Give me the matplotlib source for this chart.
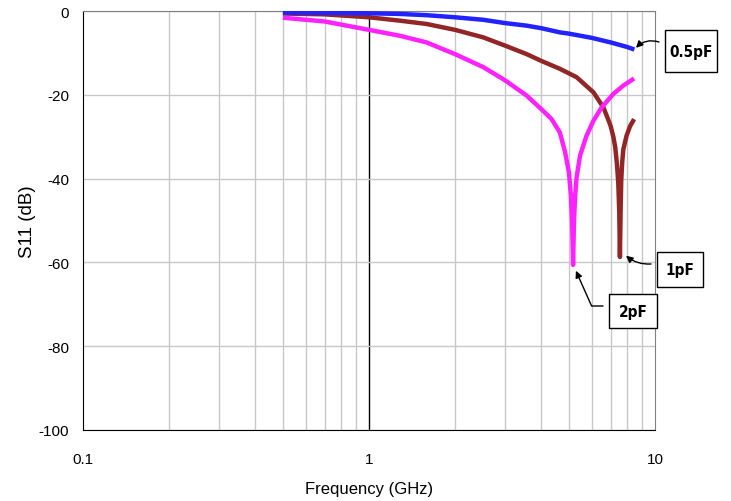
import matplotlib.pyplot as plt
from matplotlib.patches import Rectangle
from matplotlib.ticker import FixedLocator, NullFormatter

# S11 versus frequency for three capacitor values
freq_05 = [0.5, 0.7, 1.0, 1.28, 1.59, 2.0, 2.51, 3.0, 3.56, 4.0, 4.65, 5.0, 6.0, 7.0, 8.0, 8.47]
s11_05 = [-0.4, -0.45, -0.55, -0.7, -1.0, -1.5, -2.1, -2.9, -3.5, -4.1, -5.1, -5.4, -6.4, -7.5,
          -8.6, -9.2]

freq_1 = [0.5, 0.7, 1.0, 1.28, 1.59, 2.0, 2.51, 3.0, 3.56, 4.0, 4.65, 5.32, 6.09, 6.6, 6.87,
          7.0, 7.15, 7.26, 7.36, 7.44, 7.50, 7.54, 7.58, 7.62, 7.68, 7.75, 7.95, 8.18, 8.45]
s11_1 = [-0.6, -0.8, -1.5, -2.3, -3.1, -4.5, -6.3, -8.3, -10.3, -11.9, -13.8, -15.8, -19.4, -23.0,
         -26.0, -27.5, -30.0, -32.5, -36.5, -41.0, -48.0, -58.7, -48.0, -40.5, -36.0, -33.0,
         -29.8, -27.5, -25.8]

freq_2 = [0.5, 0.7, 1.0, 1.28, 1.59, 2.0, 2.51, 3.0, 3.56, 4.0, 4.35, 4.65, 4.85, 5.0, 5.08,
          5.13, 5.17, 5.21, 5.26, 5.32, 5.47, 5.76, 6.09, 6.51, 7.15, 7.75, 8.45]
s11_2 = [-1.6, -2.5, -4.5, -5.9, -7.5, -10.3, -13.4, -16.6, -20.2, -23.4, -25.8, -29.0, -33.7,
         -38.5, -44.0, -50.0, -60.6, -50.0, -44.0, -39.7, -34.5, -29.8, -26.2, -23.0, -19.8,
         -17.8, -16.1]

x_ticks = [0.1, 1, 10]
x_tick_labels = ['0.1', '1', '10']
y_ticks = [-100, -80, -60, -40, -20, 0]

plt.rcParams['font.family'] = ['Liberation Sans', 'DejaVu Sans']
plt.rcParams['axes.unicode_minus'] = False

W, H = 731, 502
fig = plt.figure(figsize=(W / 100, H / 100), dpi=100)
ax = fig.add_axes([83 / W, 71 / H, 572 / W, 419 / H])

ax.set_xscale('log')
ax.set_xlim(0.1, 10)
ax.set_ylim(-100, 0)

minor = [m * d for d in (0.1, 1) for m in range(2, 10)]
ax.xaxis.set_minor_locator(FixedLocator(minor))
ax.xaxis.set_minor_formatter(NullFormatter())
ax.set_xticks(x_ticks)
ax.set_xticklabels(x_tick_labels)
ax.set_yticks(y_ticks)

ax.grid(True, axis='x', which='minor', color='#c8c8c8', linewidth=1)
ax.grid(True, axis='y', which='major', color='#c8c8c8', linewidth=1)
ax.axvline(1, color='black', linewidth=1, zorder=1)
ax.tick_params(axis='both', which='both', length=0, labelsize=11)
ax.tick_params(axis='x', pad=16)
ax.tick_params(axis='y', pad=10)

for side in ('top', 'right'):
    ax.spines[side].set_color('#808080')
for side in ('left', 'bottom'):
    ax.spines[side].set_color('black')

style = dict(linewidth=3.2, solid_joinstyle='round', solid_capstyle='butt')
ax.plot(freq_1, s11_1, color='#922525', zorder=3, **style)
ax.plot(freq_2, s11_2, color='#ff22ff', zorder=4, **style)
ax.plot(freq_05, s11_05, color='#2222ff', zorder=5, **style)

ax.set_xlabel('Frequency (GHz)', fontsize=12, labelpad=11)
ax.set_ylabel('S11 (dB)', fontsize=13.5, labelpad=2)

# label boxes, in figure pixels (x0, top, x1, bottom)
boxes = {'0.5pF': (665, 31, 717, 73), '1pF': (657, 253, 703, 288), '2pF': (609, 295, 657, 329)}
for name, (x0, y0, x1, y1) in boxes.items():
    fig.patches.append(Rectangle((x0 / W, 1 - y1 / H), (x1 - x0) / W, (y1 - y0) / H,
                                 transform=fig.transFigure, facecolor='white',
                                 edgecolor='black', linewidth=1))
    fig.text((x0 + x1) / 2 / W, 1 - (y0 + y1) / 2 / H, name, ha='center', va='center',
             fontsize=11, fontweight='bold', family='DejaVu Sans', fontstretch='condensed')

arrow = dict(arrowstyle='-|>', color='black', linewidth=1, mutation_scale=10,
             shrinkA=0, shrinkB=0)
ax.annotate('', xy=(8.58, -8.8), xytext=(659, H - 43), textcoords='figure pixels',
            arrowprops=dict(arrow, connectionstyle='arc3,rad=0.3'), annotation_clip=False)
ax.annotate('', xy=(7.92, -58.4), xytext=(651, H - 265), textcoords='figure pixels',
            arrowprops=dict(arrow, connectionstyle='arc3,rad=-0.2'), annotation_clip=False)
ax.annotate('', xy=(5.29, -62.0), xytext=(603, H - 307), textcoords='figure pixels',
            arrowprops=dict(arrow, connectionstyle='angle,angleA=180,angleB=114,rad=0'),
            annotation_clip=False)

fig.savefig('out.png', dpi=100)
